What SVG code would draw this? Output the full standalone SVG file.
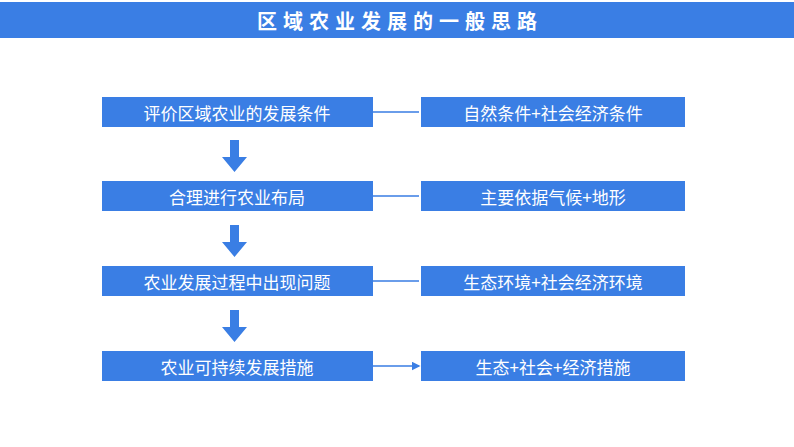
<svg xmlns="http://www.w3.org/2000/svg" width="794" height="447" viewBox="0 0 794 447">
<style>
.b{fill:#3a7ee4}
.t{fill:#fff;font-family:"Noto Sans CJK SC",sans-serif;font-size:17px;text-anchor:middle;dominant-baseline:central}
.h{fill:#fff;font-family:"Noto Sans CJK SC",sans-serif;font-size:20px;font-weight:bold;letter-spacing:6px;text-anchor:middle;dominant-baseline:central}
.c{stroke:#3a7ee4;stroke-width:1.5;fill:none}
</style>
<defs><marker id="a" markerWidth="6" markerHeight="6" refX="5" refY="3" orient="auto"><path d="M0,0L6,3L0,6z" fill="#3a7ee4"/></marker></defs>
<rect width="794" height="447" fill="#fff"/>
<g id="title"><rect x="0" y="2" width="794" height="36" class="b"/><text x="400" y="20" class="h">区域农业发展的一般思路</text></g>
<g id="n1"><rect x="102" y="97" width="271" height="30" class="b"/><text x="237" y="112" class="t">评价区域农业的发展条件</text></g>
<g id="n2"><rect x="102" y="181" width="271" height="30" class="b"/><text x="237" y="196" class="t">合理进行农业布局</text></g>
<g id="n3"><rect x="102" y="266" width="271" height="30" class="b"/><text x="237" y="281" class="t">农业发展过程中出现问题</text></g>
<g id="n4"><rect x="102" y="351" width="271" height="30" class="b"/><text x="237" y="366" class="t">农业可持续发展措施</text></g>
<g id="r1"><rect x="421" y="97" width="264" height="30" class="b"/><text x="553" y="112" class="t">自然条件+社会经济条件</text></g>
<g id="r2"><rect x="421" y="181" width="264" height="30" class="b"/><text x="553" y="196" class="t">主要依据气候+地形</text></g>
<g id="r3"><rect x="421" y="266" width="264" height="30" class="b"/><text x="553" y="281" class="t">生态环境+社会经济环境</text></g>
<g id="r4"><rect x="421" y="351" width="264" height="30" class="b"/><text x="553" y="366" class="t">生态+社会+经济措施</text></g>
<g id="connectors">
<path class="c" marker-end="url(#a)" d="M373,112H419M373,196H419M373,281H419M373,366H419"/>
<path class="b" d="M230,140h9v17h8l-12.5,15l-12.5,-15h8z"/>
<path class="b" d="M230,225h9v17h8l-12.5,15l-12.5,-15h8z"/>
<path class="b" d="M230,310h9v17h8l-12.5,15l-12.5,-15h8z"/>
</g>
</svg>
